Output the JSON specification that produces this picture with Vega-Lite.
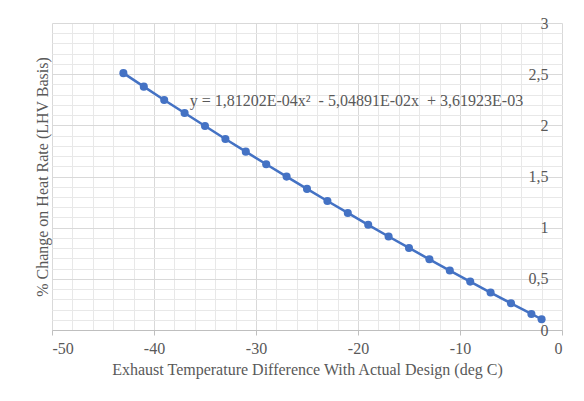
{
  "$schema": "https://vega.github.io/schema/vega-lite/v6.json",
  "width": 510,
  "height": 307,
  "autosize": {"type": "none"},
  "padding": {"left": 52, "top": 23, "right": 22, "bottom": 71},
  "background": "white",
  "config": {
    "view": {"stroke": null},
    "font": "Liberation Serif"
  },
  "datasets": {
    "pts": [
      {"x": -43, "y": 2.510},
      {"x": -41, "y": 2.378},
      {"x": -39, "y": 2.248},
      {"x": -37, "y": 2.120},
      {"x": -35, "y": 1.993},
      {"x": -33, "y": 1.867},
      {"x": -31, "y": 1.743},
      {"x": -29, "y": 1.620},
      {"x": -27, "y": 1.499},
      {"x": -25, "y": 1.379},
      {"x": -23, "y": 1.261},
      {"x": -21, "y": 1.144},
      {"x": -19, "y": 1.028},
      {"x": -17, "y": 0.914},
      {"x": -15, "y": 0.802},
      {"x": -13, "y": 0.691},
      {"x": -11, "y": 0.581},
      {"x": -9, "y": 0.473},
      {"x": -7, "y": 0.366},
      {"x": -5, "y": 0.261},
      {"x": -3, "y": 0.157},
      {"x": -2, "y": 0.105}
    ],
    "eq": [
      {"x": -36.5, "y": 2.24, "label": "y = 1,81202E-04x\u00b2\u2002- 5,04891E-02x\u2002+ 3,61923E-03"}
    ]
  },
  "layer": [
    {
      "data": {"name": "pts"},
      "mark": {"type": "line", "color": "#4472C4", "strokeWidth": 2.5},
      "encoding": {
        "x": {
          "field": "x", "type": "quantitative",
          "scale": {"domain": [-50, 0], "nice": false, "zero": false},
          "axis": {
            "orient": "top",
            "values": [-48, -46, -44, -42, -38, -36, -34, -32, -28, -26, -24, -22, -18, -16, -14, -12, -8, -6, -4, -2],
            "grid": true, "gridColor": "#e8e8e8", "labels": false, "ticks": false, "domain": false, "title": null
          }
        },
        "y": {
          "field": "y", "type": "quantitative",
          "scale": {"domain": [0, 3], "nice": false},
          "axis": {
            "orient": "left",
            "values": [0.1, 0.2, 0.3, 0.4, 0.6, 0.7, 0.8, 0.9, 1.1, 1.2, 1.3, 1.4, 1.6, 1.7, 1.8, 1.9, 2.1, 2.2, 2.3, 2.4, 2.6, 2.7, 2.8, 2.9],
            "grid": true, "gridColor": "#e8e8e8", "labels": false, "ticks": false, "tickSize": 0, "domain": false,
            "title": "% Change on Heat Rate (LHV Basis)", "titlePadding": 2,
            "titleFont": "Liberation Serif", "titleFontSize": 16, "titleFontWeight": "normal", "titleColor": "#595959"
          }
        }
      }
    },
    {
      "data": {"name": "pts"},
      "mark": {"type": "point", "filled": true, "size": 65, "color": "#4472C4", "opacity": 1},
      "encoding": {
        "x": {
          "field": "x", "type": "quantitative",
          "scale": {"domain": [-50, 0], "nice": false, "zero": false},
          "axis": {
            "orient": "bottom",
            "values": [-50, -40, -30, -20, -10, 0],
            "grid": true, "gridColor": "#d9d9d9",
            "domainColor": "#bfbfbf", "tickColor": "#bfbfbf", "tickSize": 5,
            "labelPadding": 5,
            "labelExpr": "'' + datum.value",
            "labelFont": "Liberation Serif", "labelFontSize": 16, "labelColor": "#595959",
            "title": "Exhaust Temperature Difference With Actual Design (deg C)",
            "titlePadding": 5,
            "titleFont": "Liberation Serif", "titleFontSize": 16, "titleFontWeight": "normal", "titleColor": "#595959"
          }
        },
        "y": {
          "field": "y", "type": "quantitative",
          "scale": {"domain": [0, 3], "nice": false},
          "axis": {
            "orient": "right",
            "values": [0, 0.5, 1, 1.5, 2, 2.5, 3],
            "grid": true, "gridColor": "#d9d9d9",
            "domain": false, "ticks": false, "tickSize": 0,
            "labelAlign": "right", "labelPadding": -14,
            "labelExpr": "replace('' + datum.value, '.', ',')",
            "labelFont": "Liberation Serif", "labelFontSize": 16, "labelColor": "#595959",
            "title": null
          }
        }
      }
    },
    {
      "data": {"name": "eq"},
      "mark": {"type": "text", "align": "left", "baseline": "middle", "font": "Liberation Serif", "fontSize": 16, "color": "#595959"},
      "encoding": {
        "x": {"field": "x", "type": "quantitative", "axis": null},
        "y": {"field": "y", "type": "quantitative", "axis": null},
        "text": {"field": "label"}
      }
    }
  ],
  "resolve": {"axis": {"x": "independent", "y": "independent"}}
}
